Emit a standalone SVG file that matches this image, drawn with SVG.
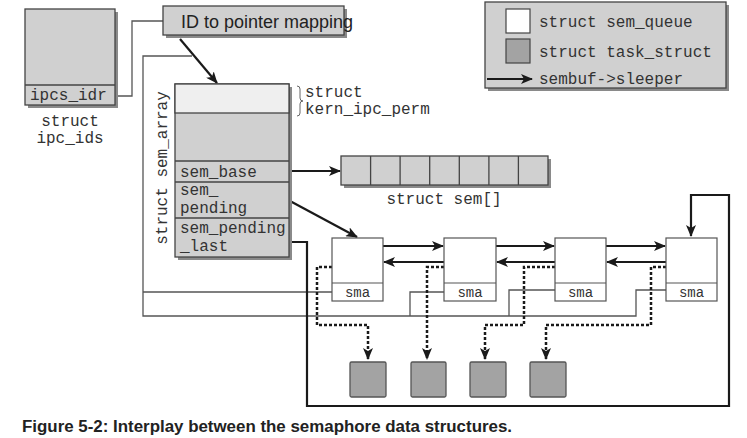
<svg xmlns="http://www.w3.org/2000/svg" width="747" height="438" viewBox="0 0 747 438">
<style>
.mono{font-family:"Liberation Mono","DejaVu Sans Mono",monospace;fill:#333;font-size:16px}
.sma{font-family:"Liberation Mono","DejaVu Sans Mono",monospace;fill:#333;font-size:14px;text-anchor:middle}
.box{fill:#d0d0d0;stroke:#444;stroke-width:1.3}
.sh{fill:#8a8a8a}
.q{fill:#fff;stroke:#555;stroke-width:1.2}
.task{fill:#a3a3a3;stroke:#555;stroke-width:1.3}
.thick{fill:none;stroke:#1a1a1a;stroke-width:2.2}
.thin{fill:none;stroke:#555;stroke-width:1.3}
.dash{fill:none;stroke:#1a1a1a;stroke-width:2.5;stroke-dasharray:3 2}
</style>
<defs>
<marker id="ah" markerWidth="12" markerHeight="10" refX="11" refY="5" orient="auto" markerUnits="userSpaceOnUse">
<path d="M0,0 L12,5 L0,10 L3,5 z" fill="#1a1a1a"/>
</marker>
</defs>
<rect width="747" height="438" fill="#fff"/>

<g id="connectors">
<path class="thin" d="M192,56 H143 V316 H636 V290 H666"/>
<path class="thin" d="M143,292 H332"/>
<path class="thin" d="M410,316 V292 H444"/>
<path class="thin" d="M509,316 V290 H555"/>
<path class="thin" d="M115,96 H132 V21 H163"/>
<path class="thick" d="M290,242 H307 V406 H729 V195 H691 V236" marker-end="url(#ah)"/>
<line class="thick" x1="180" y1="39" x2="217" y2="83" stroke-width="2" marker-end="url(#ah)"/>
<line class="thick" x1="290" y1="171" x2="340" y2="171" marker-end="url(#ah)"/>
<line class="thick" x1="290" y1="201" x2="357" y2="237" stroke-width="1.4" marker-end="url(#ah)"/>
<line class="thick" x1="383" y1="246" x2="443" y2="246" marker-end="url(#ah)"/>
<line class="thick" x1="496" y1="246" x2="554" y2="246" marker-end="url(#ah)"/>
<line class="thick" x1="606" y1="246" x2="665" y2="246" marker-end="url(#ah)"/>
<line class="thick" x1="444" y1="262" x2="384" y2="262" marker-end="url(#ah)"/>
<line class="thick" x1="555" y1="262" x2="497" y2="262" marker-end="url(#ah)"/>
<line class="thick" x1="666" y1="262" x2="607" y2="262" marker-end="url(#ah)"/>
<path class="dash" d="M332,267 H317 V325 H368 V359" marker-end="url(#ah)"/>
<path class="dash" d="M444,267 H427 V359" marker-end="url(#ah)"/>
<path class="dash" d="M555,267 H524 V325 H485 V359" marker-end="url(#ah)"/>
<path class="dash" d="M666,267 H651 V325 H546 V359" marker-end="url(#ah)"/>
</g>

<g id="ipc_ids">
<rect class="sh" x="28" y="12" width="90" height="96"/>
<rect class="box" x="25" y="9" width="90" height="96"/>
<line x1="25" y1="85" x2="115" y2="85" stroke="#444" stroke-width="1.3"/>
<text class="mono" x="30" y="100">ipcs_idr</text>
<text class="mono" x="70" y="126" text-anchor="middle">struct</text>
<text class="mono" x="70" y="143" text-anchor="middle">ipc_ids</text>
</g>

<g id="id_mapping">
<rect class="sh" x="166" y="9" width="181" height="29"/>
<rect class="box" x="163" y="6" width="181" height="29"/>
<text x="181" y="28" font-family="'Liberation Sans Narrow','Liberation Sans',sans-serif" font-size="18" fill="#222">ID to pointer mapping</text>
</g>

<g id="sem_array">
<rect class="sh" x="178" y="87" width="114" height="173"/>
<rect class="box" x="175" y="84" width="114" height="173"/>
<rect x="175" y="84" width="114" height="29" fill="#efefef" stroke="#444" stroke-width="1.3"/>
<line x1="175" y1="161" x2="289" y2="161" stroke="#444" stroke-width="1.3"/>
<line x1="175" y1="182" x2="289" y2="182" stroke="#444" stroke-width="1.3"/>
<line x1="175" y1="218" x2="289" y2="218" stroke="#444" stroke-width="1.3"/>
<text class="mono" x="180" y="177">sem_base</text>
<text class="mono" x="180" y="195">sem_</text>
<text class="mono" x="180" y="213">pending</text>
<text class="mono" x="180" y="233">sem_pending</text>
<text class="mono" x="180" y="251">_last</text>
<text class="mono" transform="translate(167,168) rotate(-90)" text-anchor="middle">struct sem_array</text>
<path d="M297,86 q3,0 3,3 v9 q0,3 3,3 q-3,0 -3,3 v9 q0,3 -3,3" fill="none" stroke="#666" stroke-width="1"/>
<text class="mono" x="305" y="97">struct</text>
<text class="mono" x="305" y="114">kern_ipc_perm</text>
</g>

<g id="sem_list">
<rect class="sh" x="344" y="159" width="207" height="29"/>
<rect class="box" x="341" y="156" width="207" height="29"/>
<path d="M370.6,156 V185 M400.1,156 V185 M429.7,156 V185 M459.3,156 V185 M488.9,156 V185 M518.4,156 V185" stroke="#444" stroke-width="1.3"/>
<text class="mono" x="444" y="204" text-anchor="middle">struct sem[]</text>
</g>

<g id="queue1">
<rect class="q" x="332" y="238" width="51" height="63"/>
<line x1="332" y1="283" x2="383" y2="283" stroke="#555" stroke-width="1.2"/>
<text class="sma" x="357.5" y="297">sma</text>
</g>
<g id="queue2">
<rect class="q" x="444" y="238" width="52" height="63"/>
<line x1="444" y1="283" x2="496" y2="283" stroke="#555" stroke-width="1.2"/>
<text class="sma" x="470" y="297">sma</text>
</g>
<g id="queue3">
<rect class="q" x="555" y="238" width="51" height="63"/>
<line x1="555" y1="283" x2="606" y2="283" stroke="#555" stroke-width="1.2"/>
<text class="sma" x="580.5" y="297">sma</text>
</g>
<g id="queue4">
<rect class="q" x="666" y="238" width="51" height="63"/>
<line x1="666" y1="283" x2="717" y2="283" stroke="#555" stroke-width="1.2"/>
<text class="sma" x="691.5" y="297">sma</text>
</g>

<g id="task1"><rect class="task" x="350" y="362" width="36" height="35" rx="1.5"/></g>
<g id="task2"><rect class="task" x="411" y="362" width="35" height="35" rx="1.5"/></g>
<g id="task3"><rect class="task" x="470" y="362" width="36" height="35" rx="1.5"/></g>
<g id="task4"><rect class="task" x="530" y="362" width="36" height="35" rx="1.5"/></g>

<g id="legend">
<rect class="sh" x="488" y="5" width="241" height="86"/>
<rect class="box" x="485" y="2" width="241" height="86"/>
<rect x="506" y="9" width="24" height="24" fill="#fff" stroke="#444" stroke-width="1.2"/>
<rect x="506" y="39" width="24" height="24" fill="#a3a3a3" stroke="#444" stroke-width="1.2"/>
<text class="mono" x="539" y="27">struct sem_queue</text>
<text class="mono" x="539" y="57">struct task_struct</text>
<line class="thick" x1="487" y1="79" x2="532" y2="79" marker-end="url(#ah)"/>
<text class="mono" x="539" y="84">sembuf-&gt;sleeper</text>
</g>

<text x="22" y="432" font-family="'Liberation Sans',Arial,sans-serif" font-weight="bold" font-size="16" fill="#222" textLength="490" lengthAdjust="spacingAndGlyphs">Figure 5-2: Interplay between the semaphore data structures.</text>
</svg>
